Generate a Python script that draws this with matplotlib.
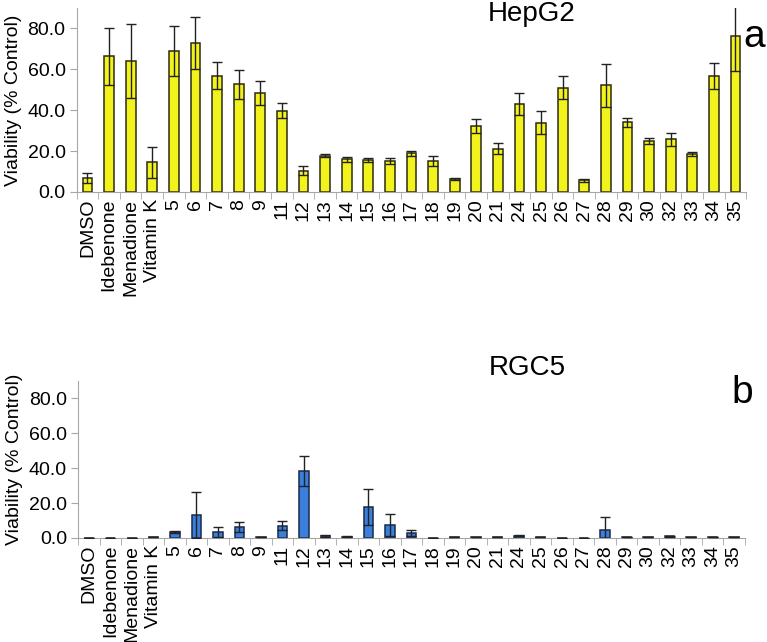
import numpy as np
import matplotlib
matplotlib.use('Agg')
from matplotlib import pyplot as plt

plt.rcParams['font.family'] = ['Liberation Sans', 'DejaVu Sans']

labels = ['DMSO', 'Idebenone', 'Menadione', 'Vitamin K', '5', '6', '7', '8', '9',
          '11', '12', '13', '14', '15', '16', '17', '18', '19', '20', '21', '24',
          '25', '26', '27', '28', '29', '30', '32', '33', '34', '35']

hepg2 = [6.8, 66.2, 64.0, 14.6, 69.0, 72.9, 56.7, 52.5, 48.3, 39.7, 10.4, 17.8,
         16.0, 15.7, 15.1, 18.8, 15.2, 6.3, 32.1, 21.2, 42.9, 33.8, 51.0, 5.7,
         52.1, 34.0, 24.9, 25.7, 18.5, 56.7, 76.3]
hepg2_err = [2.6, 13.8, 18.0, 7.6, 12.3, 12.8, 6.6, 7.1, 6.0, 3.7, 2.2, 0.5,
             1.3, 1.0, 1.3, 1.0, 2.6, 0.5, 3.4, 2.9, 5.5, 5.7, 5.7, 0.8,
             10.5, 2.3, 1.5, 3.2, 1.0, 6.3, 17.4]

rgc5 = [0.2, 0.2, 0.2, 0.5, 3.3, 13.1, 3.2, 6.3, 0.5, 7.0, 38.3, 1.3,
        0.8, 17.6, 7.6, 2.8, 0.2, 0.3, 0.3, 0.5, 1.3, 0.4, 0.2, 0.2,
        4.6, 0.3, 0.3, 1.0, 0.5, 0.3, 0.5]
rgc5_err = [0.0, 0.0, 0.0, 0.1, 0.7, 13.1, 2.9, 2.8, 0.1, 2.5, 8.8, 0.6,
            0.3, 10.3, 6.4, 1.8, 0.0, 0.0, 0.0, 0.1, 0.3, 0.1, 0.0, 0.0,
            7.5, 0.0, 0.0, 0.4, 0.1, 0.0, 0.1]

AXIS_GRAY = '#a6a6a6'

fig = plt.figure(figsize=(7.67, 6.42), dpi=100)


def panel(rect, values, errors, color, edge, title, letter, title_xy, letter_xy):
    ax = fig.add_axes(rect)
    x = np.arange(len(labels))
    ax.bar(x, values, width=0.46, color=color, edgecolor=edge, linewidth=1.1, zorder=2)
    ax.errorbar(x, values, yerr=errors, fmt='none', ecolor='#222222',
                elinewidth=1.0, capsize=3.6, capthick=1.0, zorder=3)
    ax.set_xlim(-0.5, len(labels) - 0.5)
    ax.set_ylim(0, 90)
    ax.set_yticks([0, 20, 40, 60, 80])
    ax.set_yticklabels(['%.1f' % v for v in [0, 20, 40, 60, 80]], fontsize=14)
    ax.set_xticks(x)
    ax.set_xticklabels(labels, rotation=90, fontsize=14)
    ax.set_xticks(np.arange(len(labels) + 1) - 0.5, minor=True)
    ax.tick_params(axis='x', which='major', length=0, pad=5)
    ax.tick_params(axis='x', which='minor', length=5, color=AXIS_GRAY, direction='out')
    ax.tick_params(axis='y', length=5, color=AXIS_GRAY, direction='out', pad=3)
    for side in ['top', 'right']:
        ax.spines[side].set_visible(False)
    for side in ['left', 'bottom']:
        ax.spines[side].set_color(AXIS_GRAY)
    ax.set_ylabel('Viability (% Control)', fontsize=14, labelpad=4)
    fig.text(title_xy[0], title_xy[1], title, fontsize=20, ha='center', va='center')
    fig.text(letter_xy[0], letter_xy[1], letter, fontsize=28, ha='left', va='baseline')
    return ax


panel([0.100, 0.701, 0.873, 0.287], hepg2, hepg2_err, '#f2f21c', '#2b2b10',
      'HepG2', 'a', (532 / 767, 1 - 14 / 642), (743 / 767, 1 - 47 / 642))
panel([0.102, 0.162, 0.869, 0.245], rgc5, rgc5_err, '#3a7fdc', '#1a2a4a',
      'RGC5', 'b', (527 / 767, 1 - 368 / 642), (731 / 767, 1 - 403 / 642))

fig.savefig('out.png', dpi=100)
